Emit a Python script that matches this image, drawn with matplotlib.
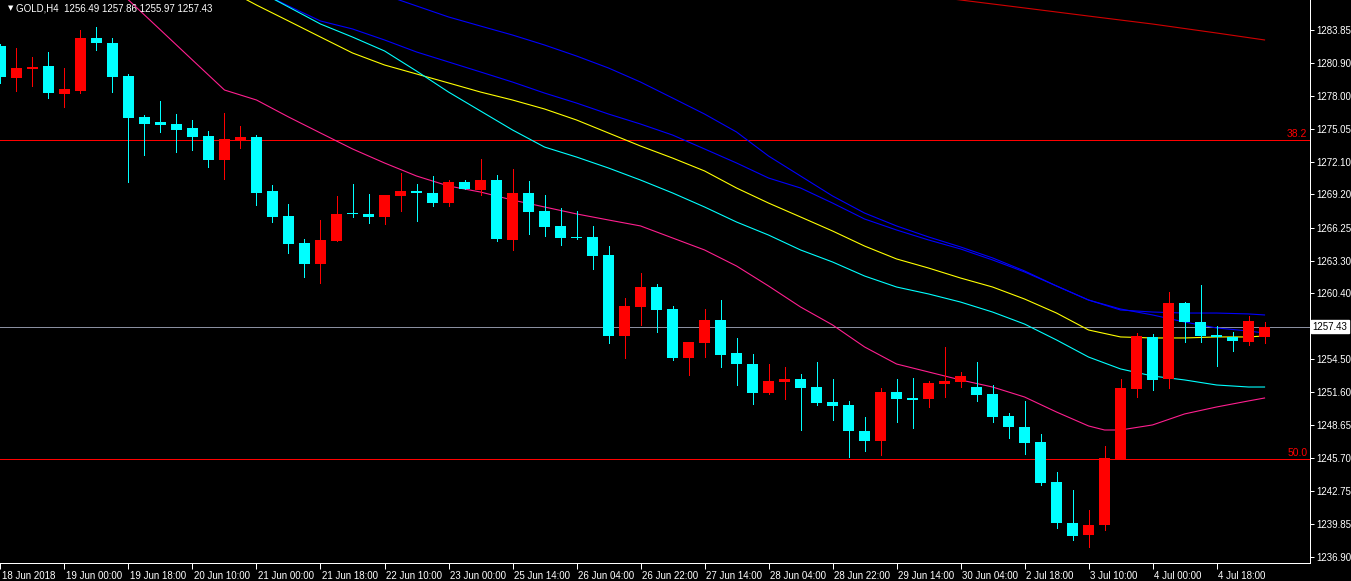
import matplotlib.pyplot as plt
import matplotlib.transforms as mtransforms

# GOLD H4 candles (prices)
opens = [1282.42, 1279.60, 1280.37, 1280.64, 1278.17, 1278.41, 1283.13, 1282.69, 1279.75, 1276.10,
         1275.65, 1275.47, 1275.12, 1274.40, 1272.29, 1274.02, 1274.32, 1269.50, 1267.28, 1264.87,
         1263.03, 1265.08, 1267.57, 1267.46, 1267.21, 1269.06, 1269.53, 1269.33, 1268.43, 1270.31,
         1269.59, 1270.48, 1265.14, 1269.33, 1267.72, 1266.39, 1265.41, 1265.41, 1263.80, 1256.61,
         1259.20, 1260.98, 1259.02, 1254.65, 1255.99, 1258.04, 1255.10, 1254.12, 1251.51, 1252.49,
         1252.76, 1252.04, 1250.71, 1250.44, 1248.15, 1247.26, 1251.60, 1251.06, 1250.97, 1252.31,
         1252.49, 1252.04, 1251.42, 1249.46, 1248.48, 1247.14, 1243.58, 1239.93, 1238.86, 1239.78,
         1245.63, 1251.89, 1256.50, 1252.78, 1259.53, 1257.83, 1256.68, 1256.50, 1256.08, 1256.49]
highs = [1282.60, 1282.24, 1281.44, 1281.89, 1280.46, 1283.85, 1284.11, 1283.13, 1279.93, 1276.27,
         1277.52, 1276.36, 1275.83, 1274.85, 1276.45, 1275.30, 1274.49, 1270.04, 1268.35, 1265.23,
         1266.92, 1269.06, 1270.13, 1269.24, 1269.15, 1271.11, 1270.13, 1270.84, 1270.48, 1270.48,
         1272.35, 1270.93, 1271.46, 1270.40, 1269.15, 1267.99, 1267.72, 1266.39, 1264.60, 1260.00,
         1262.20, 1261.25, 1259.29, 1256.08, 1259.02, 1259.82, 1256.43, 1255.01, 1254.09, 1253.82,
         1253.20, 1254.27, 1252.76, 1250.80, 1249.37, 1251.95, 1252.76, 1252.84, 1252.58, 1255.61,
         1253.38, 1254.27, 1252.22, 1249.73, 1250.80, 1247.86, 1244.47, 1242.87, 1241.08, 1246.79,
         1252.76, 1256.85, 1256.76, 1260.51, 1259.62, 1261.13, 1257.48, 1256.94, 1258.37, 1257.86]
lows = [1279.10, 1278.44, 1278.89, 1277.82, 1276.99, 1278.26, 1282.09, 1278.35, 1270.31, 1272.74,
        1274.79, 1273.01, 1273.18, 1271.67, 1270.60, 1273.36, 1268.28, 1266.77, 1264.01, 1261.87,
        1261.31, 1265.08, 1267.21, 1266.68, 1266.59, 1267.75, 1266.86, 1268.19, 1268.19, 1269.65,
        1269.15, 1265.05, 1264.25, 1265.70, 1265.52, 1264.72, 1265.25, 1262.58, 1255.99, 1254.65,
        1257.59, 1256.97, 1254.48, 1253.14, 1254.74, 1253.85, 1252.25, 1250.53, 1251.42, 1250.97,
        1248.21, 1250.44, 1249.10, 1245.81, 1246.37, 1245.98, 1248.92, 1248.39, 1250.26, 1251.15,
        1252.04, 1250.80, 1248.92, 1247.50, 1246.10, 1243.34, 1239.51, 1238.41, 1237.79, 1239.33,
        1245.63, 1251.18, 1251.80, 1251.98, 1256.08, 1256.08, 1253.94, 1255.28, 1255.81, 1255.97]
closes = [1279.69, 1280.46, 1280.55, 1278.26, 1278.59, 1283.13, 1282.69, 1279.69, 1276.03, 1275.50,
          1275.41, 1274.97, 1274.34, 1272.29, 1274.14, 1274.32, 1269.35, 1267.21, 1264.81, 1263.03,
          1265.14, 1267.46, 1267.48, 1267.21, 1269.15, 1269.50, 1269.35, 1268.43, 1270.31, 1269.68,
          1270.48, 1265.23, 1269.33, 1267.66, 1266.32, 1265.34, 1265.34, 1263.74, 1256.61, 1259.29,
          1260.98, 1258.93, 1254.65, 1256.08, 1258.04, 1254.92, 1254.12, 1251.53, 1252.58, 1252.76,
          1251.95, 1250.62, 1250.35, 1248.15, 1247.26, 1251.60, 1250.97, 1250.88, 1252.40, 1252.58,
          1253.02, 1251.33, 1249.37, 1248.48, 1247.08, 1243.52, 1239.95, 1238.79, 1239.75, 1245.72,
          1251.95, 1256.59, 1252.69, 1259.53, 1257.86, 1256.61, 1256.50, 1256.17, 1257.92, 1257.43]

# moving averages, read every couple of bars
pink_idx = list(range(6, 69, 2)) + [69, 70, 72, 74, 76, 78, 79]
pink_ma = [1289.46, 1286.52, 1283.85, 1281.17, 1278.50, 1277.61, 1276.10, 1274.67, 1273.25, 1272.00,
           1270.84, 1269.95, 1269.41, 1268.70, 1268.08, 1267.46, 1266.92, 1266.39, 1265.32, 1264.25,
           1262.82, 1261.04, 1259.17, 1257.57, 1255.61, 1254.09, 1253.38, 1252.67, 1252.04, 1251.15,
           1249.81, 1248.57, 1248.21, 1248.21, 1248.66, 1249.64, 1250.26, 1250.80, 1251.06]
cyan_idx = list(range(16, 79, 2)) + [79]
cyan_ma = [1287.41, 1285.90, 1284.38, 1283.22, 1281.98, 1280.19, 1278.32, 1276.63, 1274.94, 1273.42,
           1272.53, 1271.55, 1270.48, 1269.33, 1268.08, 1266.74, 1265.58, 1264.25, 1263.18, 1261.93,
           1260.95, 1260.33, 1259.61, 1258.72, 1257.65, 1256.23, 1254.71, 1253.65, 1253.02, 1252.67,
           1252.22, 1252.04, 1252.04]
yellow_idx = list(range(14, 79, 2)) + [79]
yellow_ma = [1287.59, 1286.07, 1284.65, 1283.22, 1281.80, 1280.73, 1279.93, 1279.13, 1278.32, 1277.61,
             1276.81, 1275.83, 1274.67, 1273.51, 1272.44, 1271.29, 1269.77, 1268.43, 1267.19, 1265.94,
             1264.60, 1263.45, 1262.64, 1261.75, 1260.95, 1259.88, 1258.63, 1257.12, 1256.50, 1256.41,
             1256.41, 1256.50, 1256.50, 1256.59]
blue1_idx = list(range(16, 79, 2)) + [79]
blue1_ma = [1287.41, 1285.99, 1284.65, 1283.94, 1282.96, 1281.89, 1281.00, 1280.11, 1279.21, 1278.23,
            1277.34, 1276.36, 1275.47, 1274.49, 1273.25, 1272.00, 1270.66, 1269.77, 1268.43, 1267.01,
            1266.03, 1265.14, 1264.34, 1263.36, 1262.29, 1261.04, 1259.79, 1258.90, 1258.72, 1258.63,
            1258.63, 1258.55, 1258.46]
blue2_idx = list(range(24, 79, 2)) + [79]
blue2_ma = [1286.97, 1285.99, 1285.01, 1284.20, 1283.40, 1282.51, 1281.53, 1280.46, 1279.21, 1277.79,
            1276.36, 1274.76, 1272.62, 1270.84, 1269.06, 1267.54, 1266.39, 1265.41, 1264.52, 1263.54,
            1262.38, 1261.04, 1259.79, 1258.99, 1258.46, 1257.83, 1257.30, 1257.03, 1256.85]
red_idx = [58, 60, 64, 68, 72, 76, 79]
red_ma = [1286.88, 1286.52, 1285.81, 1285.09, 1284.38, 1283.58, 1282.96]

fib_levels = [1274.05, 1245.63]
fib_names = ['38.2', '50.0']
bid = 1257.43

price_ticks = [1283.85, 1280.90, 1278.00, 1275.05, 1272.10, 1269.20, 1266.25, 1263.30, 1260.40,
               1254.50, 1251.60, 1248.65, 1245.70, 1242.75, 1239.85, 1236.90]
time_labels = ['18 Jun 2018', '19 Jun 00:00', '19 Jun 18:00', '20 Jun 10:00', '21 Jun 00:00',
               '21 Jun 18:00', '22 Jun 10:00', '23 Jun 00:00', '25 Jun 14:00', '26 Jun 04:00',
               '26 Jun 22:00', '27 Jun 14:00', '28 Jun 04:00', '28 Jun 22:00', '29 Jun 14:00',
               '30 Jun 04:00', '2 Jul 18:00', '3 Jul 10:00', '4 Jul 00:00', '4 Jul 18:00']

plt.rcParams['font.family'] = ['Liberation Sans', 'DejaVu Sans']

fig = plt.figure(figsize=(13.51, 5.81), dpi=100, facecolor='black')
ax = fig.add_axes([0, 18 / 581, 1310 / 1351, 563 / 581])
ax.set_facecolor('black')
ax.set_xlim(-0.03, 81.84)
ax.set_ylim(1236.36, 1286.52)

px = 0.72  # one pixel in points
ma_lw = 0.8

# horizontal levels
for lvl, name in zip(fib_levels, fib_names):
    ax.axhline(lvl, color='#ff0000', lw=px, antialiased=False, zorder=1)
    ax.text(0.998, lvl + 0.12, name, transform=ax.get_yaxis_transform(), ha='right', va='bottom',
            color='#ff0000', fontsize=7.5)
ax.axhline(bid, color='#8a8fa0', lw=px, antialiased=False, zorder=1)

# moving averages
ax.plot(red_idx, red_ma, color='#d00000', lw=ma_lw, zorder=2)
ax.plot(blue1_idx, blue1_ma, color='#0000ff', lw=ma_lw, zorder=2)
ax.plot(blue2_idx, blue2_ma, color='#0000ff', lw=ma_lw, zorder=2)
ax.plot(yellow_idx, yellow_ma, color='#ffff00', lw=ma_lw, zorder=2)
ax.plot(cyan_idx, cyan_ma, color='#00ffff', lw=ma_lw, zorder=2)
ax.plot(pink_idx, pink_ma, color='#ff1f8f', lw=ma_lw, zorder=2)

# candles
x = list(range(len(opens)))
cols = ['#ff0000' if c >= o else '#00ffff' for o, c in zip(opens, closes)]
ax.vlines(x, lows, highs, colors=cols, lw=px, antialiased=False, zorder=3)
bottoms = [min(o, c) for o, c in zip(opens, closes)]
heights = [max(abs(c - o), 0.09) for o, c in zip(opens, closes)]
ax.bar(x, heights, bottom=bottoms, width=0.6875, color=cols, linewidth=0, antialiased=False, zorder=4)

# axes styling
for s in ['top', 'left']:
    ax.spines[s].set_visible(False)
for s in ['right', 'bottom']:
    ax.spines[s].set_color('white')
    ax.spines[s].set_linewidth(px)

ax.yaxis.tick_right()
ax.set_yticks(price_ticks)
ax.set_yticklabels(['%.2f' % p for p in price_ticks])
ax.tick_params(axis='y', colors='white', length=3, width=px, labelsize=7, pad=1.5, labelcolor='white')

ax.set_xticks(list(range(0, 80, 4)))
ax.set_xticklabels(time_labels, ha='left')
ax.tick_params(axis='x', colors='white', length=4, width=px, labelsize=7, pad=2, labelcolor='white')
shift = mtransforms.ScaledTranslation(1.5 / 100, 0, fig.dpi_scale_trans)
for lab in ax.get_xticklabels():
    lab.set_transform(lab.get_transform() + shift)

# current price box on the axis
ax.text(1.002, bid, '%.2f' % bid, transform=ax.get_yaxis_transform(), ha='left', va='center',
        color='black', fontsize=7, clip_on=False,
        bbox=dict(boxstyle='square,pad=0.2', facecolor='white', edgecolor='white'))

# header
ax.text(0.006, 0.985, '\u25bc', transform=ax.transAxes, ha='left', va='center', color='white',
        fontsize=5, family='DejaVu Sans')
ax.text(0.012, 0.985, 'GOLD,H4  1256.49 1257.86 1255.97 1257.43', transform=ax.transAxes,
        ha='left', va='center', color='white', fontsize=7)

fig.savefig('out.png', dpi=100, facecolor='black')
